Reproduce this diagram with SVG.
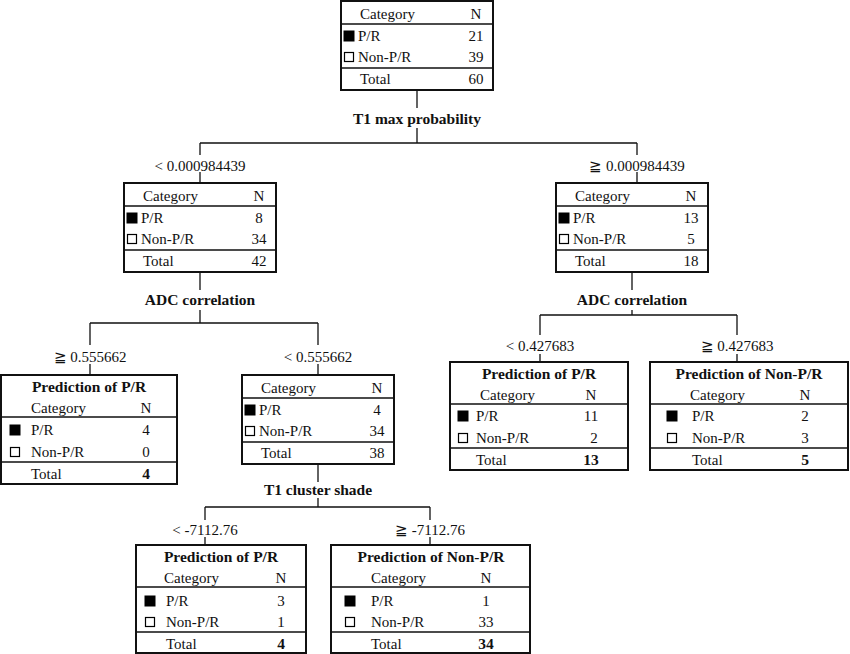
<svg xmlns="http://www.w3.org/2000/svg" width="850" height="654" viewBox="0 0 850 654">
<style>
text{font-family:"Liberation Serif","Times New Roman",serif;font-size:15px;fill:#111}
.b{font-weight:bold;font-size:15.5px}
.m{text-anchor:middle}
.box{fill:#fff;stroke:#111;stroke-width:2}
.ln{stroke:#111;stroke-width:1.3;fill:none}
.sq{fill:#000;stroke:#000}
.os{fill:#fff;stroke:#000;stroke-width:1.2}
</style>
<g id="connectors" class="ln">
<path d="M417 90V108M417 128V143M200 143H637M200 143V155M637 143V155M200 172V183M637 172V183"/>
<path d="M200 272V290M200 310V323M90 323H318M90 323V345M318 323V345M90 364V375M318 364V375"/>
<path d="M632 272V290M632 310V315M540 315H737M540 315V335M737 315V335M540 354V362M737 354V362"/>
<path d="M318 464V482M318 498V507M205 507H430M205 507V520M430 507V520M205 537V545M430 537V545"/>
</g>
<g id="labels">
<text class="b m" x="417" y="124">T1 max probability</text>
<text class="m" x="200" y="171">&lt; 0.000984439</text>
<text class="m" x="637" y="171">≧ 0.000984439</text>
<text class="b m" x="200" y="305">ADC correlation</text>
<text class="m" x="90" y="362">≧ 0.555662</text>
<text class="m" x="318" y="362">&lt; 0.555662</text>
<text class="b m" x="632" y="305">ADC correlation</text>
<text class="m" x="540" y="351">&lt; 0.427683</text>
<text class="m" x="737" y="351">≧ 0.427683</text>
<text class="b m" x="318" y="495">T1 cluster shade</text>
<text class="m" x="205" y="535">&lt; -7112.76</text>
<text class="m" x="430" y="535">≧ -7112.76</text>
</g>
<g id="root" transform="translate(341,1)">
<rect class="box" width="152" height="89"/><path class="ln" d="M0 23H152M0 67H152"/>
<text x="19" y="18">Category</text><text class="m" x="135" y="18">N</text>
<rect class="sq" x="3" y="30" width="10" height="10"/><text x="17" y="40">P/R</text><text class="m" x="135" y="40">21</text>
<rect class="os" x="3.5" y="51.5" width="9" height="9"/><text x="17" y="61">Non-P/R</text><text class="m" x="135" y="61">39</text>
<text x="19" y="83">Total</text><text class="m" x="135" y="83">60</text>
</g>
<g id="left1" transform="translate(124,183)">
<rect class="box" width="152" height="89"/><path class="ln" d="M0 23H152M0 67H152"/>
<text x="19" y="18">Category</text><text class="m" x="135" y="18">N</text>
<rect class="sq" x="3" y="30" width="10" height="10"/><text x="17" y="40">P/R</text><text class="m" x="135" y="40">8</text>
<rect class="os" x="3.5" y="51.5" width="9" height="9"/><text x="17" y="61">Non-P/R</text><text class="m" x="135" y="61">34</text>
<text x="19" y="83">Total</text><text class="m" x="135" y="83">42</text>
</g>
<g id="right1" transform="translate(556,183)">
<rect class="box" width="152" height="89"/><path class="ln" d="M0 23H152M0 67H152"/>
<text x="19" y="18">Category</text><text class="m" x="135" y="18">N</text>
<rect class="sq" x="3" y="30" width="10" height="10"/><text x="17" y="40">P/R</text><text class="m" x="135" y="40">13</text>
<rect class="os" x="3.5" y="51.5" width="9" height="9"/><text x="17" y="61">Non-P/R</text><text class="m" x="135" y="61">5</text>
<text x="19" y="83">Total</text><text class="m" x="135" y="83">18</text>
</g>
<g id="leftright" transform="translate(242,375)">
<rect class="box" width="152" height="89"/><path class="ln" d="M0 23H152M0 67H152"/>
<text x="19" y="18">Category</text><text class="m" x="135" y="18">N</text>
<rect class="sq" x="3" y="30" width="10" height="10"/><text x="17" y="40">P/R</text><text class="m" x="135" y="40">4</text>
<rect class="os" x="3.5" y="51.5" width="9" height="9"/><text x="17" y="61">Non-P/R</text><text class="m" x="135" y="61">34</text>
<text x="19" y="83">Total</text><text class="m" x="135" y="83">38</text>
</g>
<g id="leafLL" transform="translate(1,375)">
<rect class="box" width="176" height="109"/><path class="ln" d="M0 42H176M0 87H176"/>
<text class="b m" x="88" y="17">Prediction of P/R</text>
<text x="30" y="38">Category</text><text class="m" x="145" y="38">N</text>
<rect class="sq" x="9" y="50" width="10" height="10"/><text x="30" y="60">P/R</text><text class="m" x="145" y="60">4</text>
<rect class="os" x="9.5" y="72.5" width="9" height="9"/><text x="30" y="82">Non-P/R</text><text class="m" x="145" y="82">0</text>
<text x="30" y="104">Total</text><text class="b m" x="145" y="104">4</text>
</g>
<g id="leafRL" transform="translate(450,362)">
<rect class="box" width="178" height="108"/><path class="ln" d="M0 42H178M0 86H178"/>
<text class="b m" x="89" y="17">Prediction of P/R</text>
<text x="30" y="38">Category</text><text class="m" x="141" y="38">N</text>
<rect class="sq" x="8" y="49" width="10" height="10"/><text x="26" y="59">P/R</text><text class="m" x="141" y="59">11</text>
<rect class="os" x="8.5" y="71.5" width="9" height="9"/><text x="26" y="81">Non-P/R</text><text class="m" x="144" y="81">2</text>
<text x="26" y="103">Total</text><text class="b m" x="141" y="103">13</text>
</g>
<g id="leafRR" transform="translate(650,362)">
<rect class="box" width="198" height="108"/><path class="ln" d="M0 42H198M0 86H198"/>
<text class="b m" x="99" y="17">Prediction of Non-P/R</text>
<text x="40" y="38">Category</text><text class="m" x="155" y="38">N</text>
<rect class="sq" x="17" y="49" width="10" height="10"/><text x="42" y="59">P/R</text><text class="m" x="155" y="59">2</text>
<rect class="os" x="17.5" y="71.5" width="9" height="9"/><text x="42" y="81">Non-P/R</text><text class="m" x="155" y="81">3</text>
<text x="42" y="103">Total</text><text class="b m" x="155" y="103">5</text>
</g>
<g id="leafLRL" transform="translate(136,545)">
<rect class="box" width="170" height="108"/><path class="ln" d="M0 42H170M0 87H170"/>
<text class="b m" x="85" y="17">Prediction of P/R</text>
<text x="28" y="38">Category</text><text class="m" x="145" y="38">N</text>
<rect class="sq" x="9" y="51" width="10" height="10"/><text x="30" y="61">P/R</text><text class="m" x="145" y="61">3</text>
<rect class="os" x="9.5" y="72.5" width="9" height="9"/><text x="30" y="82">Non-P/R</text><text class="m" x="145" y="82">1</text>
<text x="30" y="104">Total</text><text class="b m" x="145" y="104">4</text>
</g>
<g id="leafLRR" transform="translate(331,545)">
<rect class="box" width="199" height="108"/><path class="ln" d="M0 42H199M0 87H199"/>
<text class="b m" x="100" y="17">Prediction of Non-P/R</text>
<text x="40" y="38">Category</text><text class="m" x="155" y="38">N</text>
<rect class="sq" x="14" y="51" width="10" height="10"/><text x="40" y="61">P/R</text><text class="m" x="155" y="61">1</text>
<rect class="os" x="14.5" y="72.5" width="9" height="9"/><text x="40" y="82">Non-P/R</text><text class="m" x="155" y="82">33</text>
<text x="40" y="104">Total</text><text class="b m" x="155" y="104">34</text>
</g>
</svg>
